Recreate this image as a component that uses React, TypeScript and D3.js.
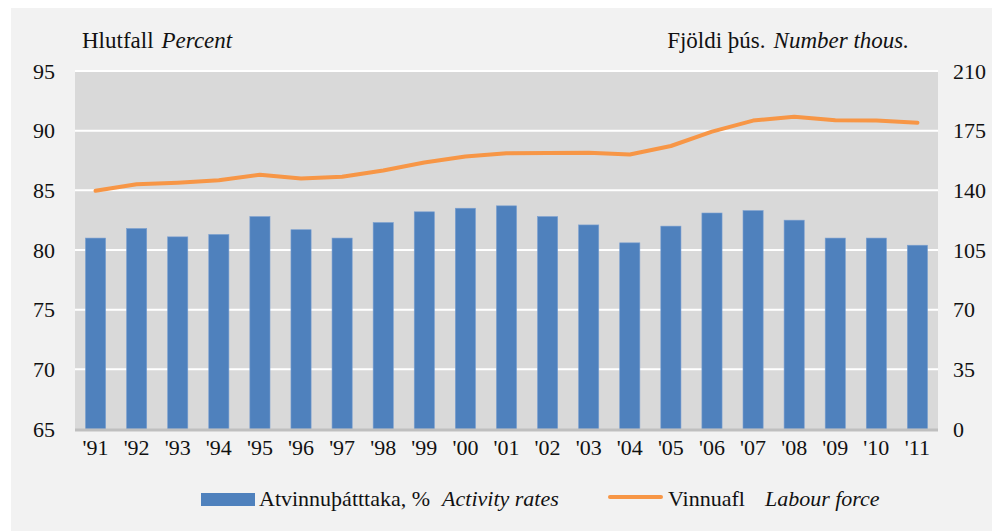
import { useRef, useEffect } from 'react';
import * as d3 from 'd3';

const years = ["'91", "'92", "'93", "'94", "'95", "'96", "'97", "'98", "'99", "'00", "'01", "'02", "'03", "'04", "'05", "'06", "'07", "'08", "'09", "'10", "'11"];
const activityRates = [81.0, 81.8, 81.1, 81.3, 82.8, 81.7, 81.0, 82.3, 83.2, 83.5, 83.7, 82.8, 82.1, 80.6, 82.0, 83.1, 83.3, 82.5, 81.0, 81.0, 80.4];
const labourForce = [139.7, 143.6, 144.5, 145.9, 149.2, 146.9, 148.0, 151.6, 156.3, 159.8, 161.8, 161.9, 162.0, 161.0, 166.0, 174.4, 180.9, 183.2, 181.1, 181.0, 179.7];
const leftTicks = [65, 70, 75, 80, 85, 90, 95];
const rightTicks = [0, 35, 70, 105, 140, 175, 210];

const W = 1005;
const H = 531;
const margin = { left: 75, right: 67, top: 71, bottom: 102 };
const serif = 'Times New Roman';

export default function App() {
  const gx = useRef<SVGGElement>(null);
  const gl = useRef<SVGGElement>(null);
  const gr = useRef<SVGGElement>(null);

  const x = d3.scaleBand(years, [margin.left, W - margin.right]).paddingInner(0.51).paddingOuter(0.255);
  const yL = d3.scaleLinear([65, 95], [H - margin.bottom, margin.top]);
  const yR = d3.scaleLinear([0, 210], [H - margin.bottom, margin.top]);

  const line = d3
    .line<number>()
    .x((_, i) => (x(years[i]) ?? 0) + x.bandwidth() / 2)
    .y((d) => yR(d));

  useEffect(() => {
    const tidy = (g: d3.Selection<SVGGElement, unknown, null, undefined>) => {
      g.attr('font-family', serif).attr('font-size', 22);
      g.select('.domain').remove();
      g.selectAll('text').attr('fill', '#111');
    };
    if (gx.current) {
      const g = d3.select(gx.current);
      g.call(d3.axisBottom(x).tickSize(0).tickPadding(10));
      tidy(g);
      g.selectAll('text').attr('dy', '0.71em');
    }
    if (gl.current) {
      const g = d3.select(gl.current);
      g.call(d3.axisLeft(yL).tickValues(leftTicks).tickSize(0).tickPadding(20));
      tidy(g);
    }
    if (gr.current) {
      const g = d3.select(gr.current);
      g.call(d3.axisRight(yR).tickValues(rightTicks).tickSize(0).tickPadding(15));
      tidy(g);
    }
  }, [x, yL, yR]);

  const x0 = margin.left;
  const x1 = W - margin.right;

  return (
    <svg width={W} height={H} style={{ position: 'absolute', left: 0, top: 0 }}>
      <rect x={0} y={0} width={W} height={H} fill='#fff' />
      <rect x={11} y={8} width={981} height={H - 8} fill='#f2f2f2' />
      <rect x={x0} y={margin.top} width={x1 - x0} height={H - margin.bottom - margin.top} fill='#d9d9d9' />
      {leftTicks.slice(1).map((t) => (
        <line key={t} x1={x0} x2={x1} y1={yL(t)} y2={yL(t)} stroke='#fff' strokeWidth={2} />
      ))}
      {years.map((yr, i) => (
        <rect
          key={yr}
          x={x(yr)}
          y={yL(activityRates[i])}
          width={x.bandwidth()}
          height={yL(65) - yL(activityRates[i])}
          fill='#4f81bd'
          stroke='#7a9fd0'
          strokeWidth={0.6}
        />
      ))}
      <line x1={x0} x2={x1} y1={yL(65) + 1} y2={yL(65) + 1} stroke='#bfbfbf' strokeWidth={3} />
      <path d={line(labourForce) ?? ''} fill='none' stroke='#f79646' strokeWidth={4} strokeLinejoin='round' strokeLinecap='round' />
      <g ref={gx} transform={`translate(0, ${H - margin.bottom})`} />
      <g ref={gl} transform={`translate(${x0}, 0)`} />
      <g ref={gr} transform={`translate(${x1}, 0)`} />
      <text x={82} y={48} fontFamily={serif} fontSize={23} fill='#111'>
        Hlutfall<tspan dx={8} fontStyle='italic'>Percent</tspan>
      </text>
      <text x={909} y={48} textAnchor='end' fontFamily={serif} fontSize={23} fill='#111'>
        Fjöldi þús.<tspan dx={8} fontStyle='italic'>Number thous.</tspan>
      </text>
      <rect x={201} y={493} width={54} height={13} fill='#4f81bd' />
      <text x={259} y={506} fontFamily={serif} fontSize={22} fill='#111'>
        Atvinnuþátttaka, %<tspan dx={12} fontStyle='italic'>Activity rates</tspan>
      </text>
      <line x1={610} x2={661} y1={497} y2={497} stroke='#f79646' strokeWidth={4} strokeLinecap='round' />
      <text x={668} y={506} fontFamily={serif} fontSize={22} fill='#111'>
        Vinnuafl<tspan dx={20} fontStyle='italic'>Labour force</tspan>
      </text>
    </svg>
  );
}
